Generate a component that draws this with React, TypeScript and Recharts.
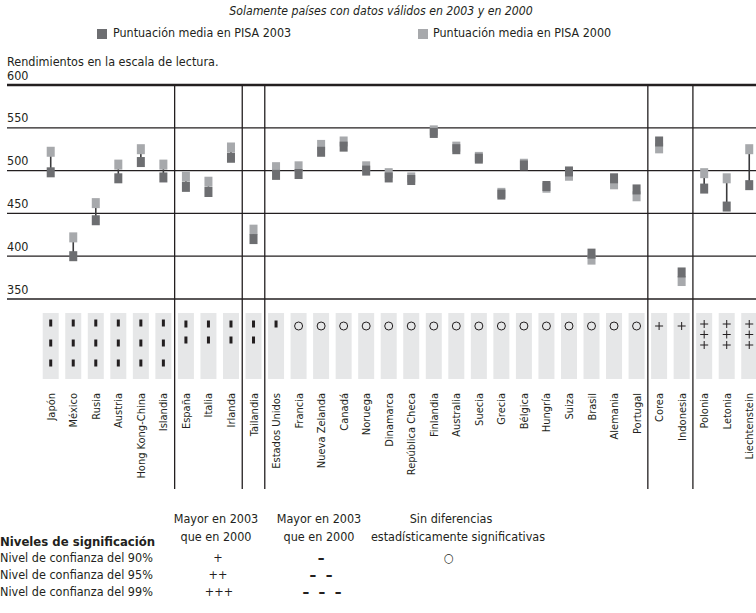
import React from 'react'
import { ComposedChart, Scatter, XAxis, YAxis, ReferenceLine, ErrorBar } from 'recharts'

const paises = [
  'Japón', 'México', 'Rusia', 'Austria', 'Hong Kong-China', 'Islandia',
  'España', 'Italia', 'Irlanda',
  'Tailandia',
  'Estados Unidos', 'Francia', 'Nueva Zelanda', 'Canadá', 'Noruega', 'Dinamarca',
  'República Checa', 'Finlandia', 'Australia', 'Suecia', 'Grecia', 'Bélgica',
  'Hungría', 'Suiza', 'Brasil', 'Alemania', 'Portugal',
  'Corea', 'Indonesia',
  'Polonia', 'Letonia', 'Liechtenstein',
]

const pisa2003 = [
  498, 400, 442, 491, 510, 492,
  481, 475, 515,
  420,
  495, 496, 522, 528, 500, 492, 489, 544, 525, 514, 472, 506, 482, 499, 403, 491, 478,
  534, 381,
  479, 458, 483,
]

const pisa2000 = [
  522, 422, 462, 507, 525, 507,
  493, 487, 527,
  431,
  504, 505, 530, 534, 505, 497, 492, 547, 528, 516, 474, 508, 480, 494, 396, 484, 470,
  526, 371,
  497, 491, 525,
]

// significación: '-' menor, '+' mayor, 'o' sin diferencias
const signif = [
  '---', '---', '---', '---', '---', '---',
  '--', '--', '--',
  '--',
  '-', 'o', 'o', 'o', 'o', 'o', 'o', 'o', 'o', 'o', 'o', 'o', 'o', 'o', 'o', 'o', 'o',
  '+', '+',
  '+++', '+++', '+++',
]

// número de países en cada bloque
const grupos = [6, 3, 1, 17, 2, 3]

const nivelesY = [600, 550, 500, 450, 400, 350]

const OSCURO = '#6d6e71'
const CLARO = '#a7a9ac'
const LINEA = '#231f20'
const CAJA = '#e6e7e8'
const fuente = '"DejaVu Sans Condensed", "Liberation Sans", sans-serif'

const filas = paises.map((pais, idx) => {
  const a = pisa2003[idx]
  const b = pisa2000[idx]
  return {
    idx,
    pais,
    p2003: a,
    p2000: b,
    tramo: [Math.max(0, a - b), Math.max(0, b - a)],
    signif: signif[idx],
  }
})

const limites: number[] = []
grupos.reduce((acc, n) => {
  const fin = acc + n
  if (fin < paises.length) limites.push(fin - 0.5)
  return fin
}, 0)

const Marcador = (props: any) => {
  const { cx, cy, fill } = props
  if (cx == null || cy == null) return <g />
  return <rect x={cx - 4} y={cy - 5} width={8} height={10} fill={fill} />
}

const Nada = () => <g />

// la línea vertical baja hasta los nombres de los países
const Separador = (props: any) => {
  const { x1, y1, x2, y2 } = props
  const arriba = Math.min(y1, y2)
  const abajo = Math.max(y1, y2) + 190
  return <line x1={x1} y1={arriba} x2={x2} y2={abajo} stroke={LINEA} strokeWidth={1.3} />
}

const lineaH = (valor: number) => (props: any) => {
  const { x1, x2, y1 } = props
  return (
    <g>
      <line x1={x1} y1={y1} x2={x2} y2={y1} stroke={LINEA} strokeWidth={valor === 600 ? 2.6 : 1.3} />
      <text x={Math.min(x1, x2)} y={y1 - 5.5} fontSize={12.5} fill={LINEA} fontFamily={fuente}>
        {valor}
      </text>
    </g>
  )
}

const TickPais = (props: any) => {
  const { x, y, payload } = props
  const fila = filas[payload.value]
  if (!fila) return <g />
  const s = fila.signif
  const simbolos: React.ReactNode[] = []
  if (s[0] === '-') {
    const pos = s.length === 3 ? [24, 44, 64] : s.length === 2 ? [25, 41] : [25]
    pos.forEach((d, i) =>
      simbolos.push(<rect key={i} x={x - 1.5} y={y + d - 3.5} width={3} height={7} fill={LINEA} />)
    )
  } else if (s === 'o') {
    simbolos.push(<circle key="c" cx={x} cy={y + 27} r={4} fill="none" stroke={LINEA} strokeWidth={1} />)
  } else {
    const pos = s.length === 3 ? [25, 35.5, 46] : [27]
    pos.forEach((d, i) =>
      simbolos.push(
        <g key={i} stroke={LINEA} strokeWidth={1}>
          <line x1={x - 4} y1={y + d} x2={x + 4} y2={y + d} />
          <line x1={x} y1={y + d - 4} x2={x} y2={y + d + 4} />
        </g>
      )
    )
  }
  return (
    <g>
      <rect x={x - 8} y={y + 14} width={16} height={66} fill={CAJA} />
      {simbolos}
      <text
        transform={`translate(${x + 4},${y + 94}) rotate(-90)`}
        textAnchor="end"
        fontSize={11}
        fill={LINEA}
        fontFamily={fuente}
      >
        {fila.pais}
      </text>
    </g>
  )
}

const Texto = ({ left, top, size = 12.5, center, bold, italic, children }: any) => (
  <div
    style={{
      position: 'absolute',
      left: center != null ? center - 300 : left,
      width: center != null ? 600 : undefined,
      textAlign: center != null ? 'center' : 'left',
      top,
      fontSize: size,
      lineHeight: 1,
      whiteSpace: 'pre',
      fontWeight: bold ? 'bold' : 'normal',
      fontStyle: italic ? 'italic' : 'normal',
      color: LINEA,
    }}
  >
    {children}
  </div>
)

export default function App() {
  return (
    <div style={{ position: 'relative', width: 756, height: 613, fontFamily: fuente, background: '#fff' }}>
      <style>{'body { margin: 0; }'}</style>
      <ComposedChart width={756} height={500} data={filas} margin={{ top: 85, right: 0, bottom: 0, left: 7 }}>
        <XAxis
          type="number"
          dataKey="idx"
          domain={[-1.94, 31.3]}
          allowDataOverflow
          ticks={filas.map((f) => f.idx)}
          interval={0}
          axisLine={false}
          tickLine={false}
          tickSize={0}
          tickMargin={0}
          height={201}
          tick={<TickPais />}
        />
        <YAxis type="number" domain={[350, 600]} allowDataOverflow hide />
        {nivelesY.map((v) => (
          <ReferenceLine key={v} y={v} stroke={LINEA} shape={lineaH(v)} />
        ))}
        {limites.map((x) => (
          <ReferenceLine key={x} x={x} stroke={LINEA} shape={Separador} />
        ))}
        <Scatter dataKey="p2003" shape={Nada} isAnimationActive={false} legendType="none">
          <ErrorBar dataKey="tramo" direction="y" width={0} stroke="#3b3b3d" strokeWidth={1.6} isAnimationActive={false} />
        </Scatter>
        <Scatter name="Puntuación media en PISA 2000" dataKey="p2000" fill={CLARO} shape={Marcador} isAnimationActive={false} />
        <Scatter name="Puntuación media en PISA 2003" dataKey="p2003" fill={OSCURO} shape={Marcador} isAnimationActive={false} />
      </ComposedChart>

      <Texto center={381} top={5} size={12.2} italic>
        Solamente países con datos válidos en 2003 y en 2000
      </Texto>
      <div style={{ position: 'absolute', left: 97, top: 29, width: 10, height: 10, background: OSCURO }} />
      <Texto left={113} top={26.5} size={12.4}>Puntuación media en PISA 2003</Texto>
      <div style={{ position: 'absolute', left: 418, top: 29, width: 10, height: 10, background: CLARO }} />
      <Texto left={433} top={26.5} size={12.4}>Puntuación media en PISA 2000</Texto>
      <Texto left={7} top={56} size={12.5}>Rendimientos en la escala de lectura.</Texto>

      <Texto center={216} top={513}>Mayor en 2003</Texto>
      <Texto center={216} top={531}>que en 2000</Texto>
      <Texto center={319} top={513}>Mayor en 2003</Texto>
      <Texto center={319} top={531}>que en 2000</Texto>
      <Texto center={451} top={513}>Sin diferencias</Texto>
      <Texto center={458} top={531}>estadísticamente significativas</Texto>

      <Texto left={0} top={535} size={13} bold>Niveles de significación</Texto>
      <Texto left={0} top={552}>Nivel de confianza del 90%</Texto>
      <Texto left={0} top={569}>Nivel de confianza del 95%</Texto>
      <Texto left={0} top={586}>Nivel de confianza del 99%</Texto>

      <Texto center={218} top={552}>+</Texto>
      <Texto center={218} top={569}>++</Texto>
      <Texto center={219} top={586}>+++</Texto>
      <Texto center={321} top={551} size={15} bold>–</Texto>
      <Texto center={321} top={568} size={15} bold>–  –</Texto>
      <Texto center={322} top={585} size={15} bold>–  –  –</Texto>
      <Texto center={449} top={552}>○</Texto>
    </div>
  )
}
